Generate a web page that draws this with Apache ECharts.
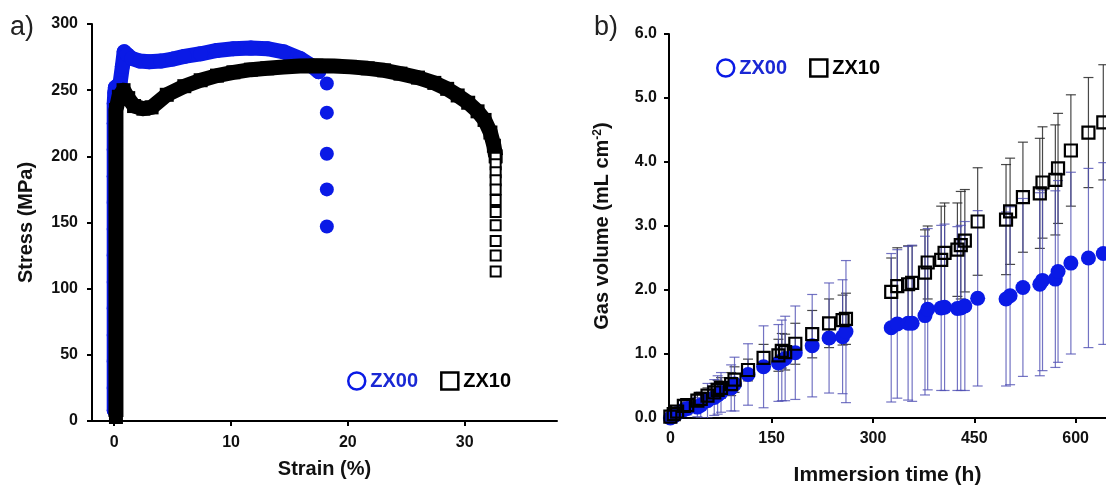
<!DOCTYPE html>
<html>
<head>
<meta charset="utf-8">
<script src="https://cdn.jsdelivr.net/npm/echarts@6/dist/echarts.min.js"></script>
<style>
html,body{margin:0;padding:0;background:#fff;}
#c{width:1106px;height:491px;}
</style>
</head>
<body>
<div id="c"></div>
<script>
// ---------- Panel a) tensile curves ----------
const zx00CurveStrain = [0,0,0,0,0,0,0,0,0,0,0,0,0,0.05,0.1,0.5,0.7,0.85,1.1,1.5,2.2,3,4,5,6,7.4,8.8,10.2,11.7,13.1,14.5,15.9,16.8,17.5];
const zx00CurveStress = [8,25,45,65,85,105,125,145,165,185,205,225,240,248,252,255,268,279,277,274,272,271.5,272,273.5,275.5,277.5,280,281.3,281.8,281.3,279,274,269,264];
const zx00FractureStrain = [18.2,18.2,18.2,18.2,18.2];
const zx00FractureStress = [255,233,202,175,147];

const zx10CurveStrain = [0.15,0.15,0.15,0.15,0.15,0.15,0.15,0.15,0.15,0.15,0.15,0.15,0.15,0.4,0.8,1.2,1.7,2.5,3.2,4.5,6,7.4,8.8,10.2,11.7,13.1,14.5,15.9,17.3,18.8,20.2,21.7,23.1,24.5,26,27.4,28.5,29.4,30.3,31.1,31.7,32.2,32.5,32.65];
const zx10CurveStress = [3,20,40,60,80,100,120,140,160,180,200,220,235,245,250,244,238,236,237,246.5,253,257.5,261,263.5,265.5,266.5,267.5,268.3,268.5,268.3,267.6,266.5,265,262.5,259.5,255.5,251,246,240.5,234,227.5,218,208,200];
const zx10FractureStrain = [32.65,32.65,32.65,32.65,32.65,32.65,32.65,32.65,32.65,32.65,32.65];
const zx10FractureStress = [199,194,188,182,175,167,158,148,136,125,113];

const strainTicks = [0,10,20,30];
const stressTicks = [0,50,100,150,200,250,300];

// ---------- Panel b) gas volume ----------
const timeZX00 = [0,5,10,20,25,40,45,55,65,70,75,90,95,115,138,160,165,170,185,210,235,255,260,
                  327,336,352,358,377,381,401,406,425,430,436,455,497,503,522,547,551,570,574,593,619,641];
const gasZX00  = [0.00,0.03,0.07,0.13,0.15,0.17,0.20,0.27,0.32,0.36,0.40,0.47,0.53,0.68,0.80,0.86,0.90,0.93,1.02,1.13,1.25,1.27,1.35,
                  1.41,1.47,1.48,1.48,1.60,1.70,1.72,1.73,1.71,1.72,1.75,1.87,1.86,1.91,2.04,2.09,2.15,2.17,2.29,2.42,2.50,2.57];
const errZX00  = [0.02,0.04,0.06,0.08,0.10,0.15,0.20,0.27,0.28,0.30,0.31,0.36,0.42,0.48,0.64,0.60,0.63,0.66,0.73,0.80,0.86,0.89,1.11,
                  1.16,1.16,1.20,1.22,1.24,1.26,1.29,1.30,1.28,1.29,1.32,1.37,1.36,1.39,1.39,1.43,1.41,1.38,1.42,1.42,1.40,1.42];

const timeZX10 = [0,5,10,20,25,40,45,55,65,70,75,90,95,115,138,160,165,170,185,210,235,255,260,
                  327,336,352,358,377,381,401,406,425,430,436,455,497,503,522,547,551,570,574,593,619,641];
const gasZX10  = [0.02,0.06,0.10,0.19,0.20,0.27,0.30,0.35,0.40,0.44,0.47,0.53,0.60,0.75,0.94,0.98,1.05,1.03,1.16,1.31,1.48,1.53,1.55,
                  1.97,2.06,2.09,2.11,2.27,2.43,2.47,2.58,2.63,2.70,2.77,3.07,3.10,3.23,3.45,3.51,3.68,3.72,3.90,4.18,4.46,4.62];
const errZX10  = [0.02,0.03,0.05,0.08,0.08,0.10,0.10,0.12,0.14,0.15,0.16,0.18,0.20,0.17,0.21,0.25,0.27,0.28,0.32,0.37,0.38,0.39,0.40,
                  0.53,0.60,0.60,0.58,0.67,0.57,0.84,0.78,0.73,0.84,0.80,0.84,0.86,0.83,0.86,0.86,0.87,0.86,0.86,0.87,0.86,0.90];

const timeTicks = [0,150,300,450,600];
const gasTicks = [0,1,2,3,4,5,6];

// ---------- helpers ----------
const FONT = "'Liberation Sans', Arial, sans-serif";
const BLUE = '#0a1ae6';
const BLUE_TEXT = '#1a28d4';
const zip = (a, b) => a.map((v, i) => [v, b[i]]);
const zip3 = (a, b, c) => a.map((v, i) => [v, b[i], c[i]]);

function errRender(color) {
  return function (params, api) {
    const x = api.value(0), y = api.value(1), e = api.value(2);
    const top = api.coord([x, y + e]);
    const bot = api.coord([x, y - e]);
    const hw = 5;
    const st = { stroke: color, lineWidth: 1.2 };
    return {
      type: 'group',
      children: [
        { type: 'line', shape: { x1: top[0], y1: top[1], x2: bot[0], y2: bot[1] }, style: st },
        { type: 'line', shape: { x1: top[0] - hw, y1: top[1], x2: top[0] + hw, y2: top[1] }, style: st },
        { type: 'line', shape: { x1: bot[0] - hw, y1: bot[1], x2: bot[0] + hw, y2: bot[1] }, style: st }
      ]
    };
  };
}

const axisCommon = {
  axisLine: { show: true, onZero: false, lineStyle: { color: '#000', width: 2 } },
  axisTick: { show: true, inside: false, length: 5, lineStyle: { color: '#000', width: 2 } },
  splitLine: { show: false },
  axisLabel: { color: '#111', fontFamily: FONT, fontWeight: 'bold', fontSize: 16 },
  nameTextStyle: { color: '#111', fontFamily: FONT, fontWeight: 'bold', fontSize: 20 }
};
function ax(extra) {
  const o = JSON.parse(JSON.stringify(axisCommon));
  for (const k in extra) {
    if (o[k] && typeof o[k] === 'object' && !Array.isArray(o[k]) && typeof extra[k] === 'object') {
      o[k] = Object.assign(o[k], extra[k]);
    } else o[k] = extra[k];
  }
  return o;
}

const chart = echarts.init(document.getElementById('c'), null, { renderer: 'canvas' });

const option = {
  animation: false,
  backgroundColor: '#fff',
  textStyle: { fontFamily: FONT },
  grid: [
    { left: 92, top: 24, width: 465, height: 397 },
    { left: 669, top: 34, right: 0, height: 385 }
  ],
  xAxis: [
    ax({
      gridIndex: 0, type: 'value', min: -1.9, max: 37.9,
      axisTick: { customValues: strainTicks },
      axisLabel: { customValues: strainTicks, margin: 14 },
      name: 'Strain (%)', nameLocation: 'middle', nameGap: 38
    }),
    ax({
      gridIndex: 1, type: 'value', min: -2, max: 645,
      axisTick: { customValues: timeTicks },
      axisLabel: { customValues: timeTicks, margin: 13 },
      name: 'Immersion time (h)', nameLocation: 'middle', nameGap: 47,
      nameTextStyle: { fontSize: 21 }
    })
  ],
  yAxis: [
    ax({
      gridIndex: 0, type: 'value', min: 0, max: 300, interval: 50,
      axisTick: { customValues: stressTicks },
      axisLabel: { customValues: stressTicks, margin: 14 },
      name: 'Stress (MPa)', nameLocation: 'middle', nameGap: 56
    }),
    ax({
      gridIndex: 1, type: 'value', min: 0, max: 6, interval: 1,
      axisTick: { customValues: gasTicks },
      axisLabel: { customValues: gasTicks, margin: 12, formatter: v => v.toFixed(1) },
      name: '{a|Gas volume (mL cm}{s|-2}{a|)}', nameLocation: 'middle', nameGap: 57,
      nameTextStyle: {
        rich: {
          a: { fontFamily: FONT, fontWeight: 'bold', fontSize: 20, color: '#111' },
          s: { fontFamily: FONT, fontWeight: 'bold', fontSize: 12, color: '#111', verticalAlign: 'top' }
        }
      }
    })
  ],
  legend: [
    {
      left: 342, top: 366, itemWidth: 17, itemHeight: 17, itemGap: 22, selectedMode: false,
      textStyle: { fontFamily: FONT, fontWeight: 'bold', fontSize: 20 },
      data: [
        { name: 'ZX00', icon: 'circle', itemStyle: { color: 'rgba(0,0,0,0)', borderColor: BLUE, borderWidth: 2.5 }, textStyle: { color: BLUE_TEXT } },
        { name: 'ZX10', icon: 'rect', itemStyle: { color: 'rgba(0,0,0,0)', borderColor: '#000', borderWidth: 2.5 }, textStyle: { color: '#000' } }
      ]
    },
    {
      left: 711, top: 53, itemWidth: 17, itemHeight: 17, itemGap: 22, selectedMode: false,
      textStyle: { fontFamily: FONT, fontWeight: 'bold', fontSize: 20 },
      data: [
        { name: 'ZX00', icon: 'circle', itemStyle: { color: 'rgba(0,0,0,0)', borderColor: BLUE, borderWidth: 2.5 }, textStyle: { color: BLUE_TEXT } },
        { name: 'ZX10', icon: 'rect', itemStyle: { color: 'rgba(0,0,0,0)', borderColor: '#000', borderWidth: 2.5 }, textStyle: { color: '#000' } }
      ]
    }
  ],
  graphic: [
    { type: 'text', left: 10, top: 14, style: { text: 'a)', fontFamily: FONT, fontSize: 27, fill: '#222' } },
    { type: 'text', left: 594, top: 14, style: { text: 'b)', fontFamily: FONT, fontSize: 27, fill: '#222' } }
  ],
  series: [
    // scatter series first (legend picks first series per name)
    {
      name: 'ZX00', type: 'scatter', xAxisIndex: 1, yAxisIndex: 1, z: 4,
      symbol: 'circle', symbolSize: 15,
      itemStyle: { color: BLUE, opacity: 1 },
      data: zip(timeZX00, gasZX00)
    },
    {
      name: 'ZX10', type: 'scatter', xAxisIndex: 1, yAxisIndex: 1, z: 5,
      symbol: 'rect', symbolSize: 12,
      itemStyle: { color: 'rgba(0,0,0,0)', borderColor: '#000', borderWidth: 2.2, opacity: 1 },
      data: zip(timeZX10, gasZX10)
    },
    {
      name: 'errZX10', type: 'custom', xAxisIndex: 1, yAxisIndex: 1, z: 2, clip: true,
      renderItem: errRender('rgba(40,40,40,0.85)'),
      data: zip3(timeZX10, gasZX10, errZX10)
    },
    {
      name: 'errZX00', type: 'custom', xAxisIndex: 1, yAxisIndex: 1, z: 3, clip: true,
      renderItem: errRender('rgba(80,80,180,0.8)'),
      data: zip3(timeZX00, gasZX00, errZX00)
    },
    // panel a
    {
      name: 'ZX00', type: 'line', xAxisIndex: 0, yAxisIndex: 0, z: 2,
      symbol: 'circle', symbolSize: 15, showSymbol: true,
      lineStyle: { color: BLUE, width: 15, cap: 'round', join: 'round' },
      itemStyle: { color: BLUE },
      data: zip(zx00CurveStrain, zx00CurveStress)
    },
    {
      name: 'ZX00', type: 'scatter', xAxisIndex: 0, yAxisIndex: 0, z: 2,
      symbol: 'circle', symbolSize: 14,
      itemStyle: { color: BLUE, opacity: 1 },
      data: zip(zx00FractureStrain, zx00FractureStress)
    },
    {
      name: 'ZX10', type: 'line', xAxisIndex: 0, yAxisIndex: 0, z: 3,
      symbol: 'rect', symbolSize: 14, showSymbol: true,
      lineStyle: { color: '#000', width: 15, cap: 'butt', join: 'round' },
      itemStyle: { color: '#000' },
      data: zip(zx10CurveStrain, zx10CurveStress)
    },
    {
      name: 'ZX10', type: 'scatter', xAxisIndex: 0, yAxisIndex: 0, z: 3,
      symbol: 'rect', symbolSize: 10,
      itemStyle: { color: '#fff', borderColor: '#000', borderWidth: 2, opacity: 1 },
      data: zip(zx10FractureStrain, zx10FractureStress)
    }
  ]
};
chart.setOption(option);
</script>
</body>
</html>
